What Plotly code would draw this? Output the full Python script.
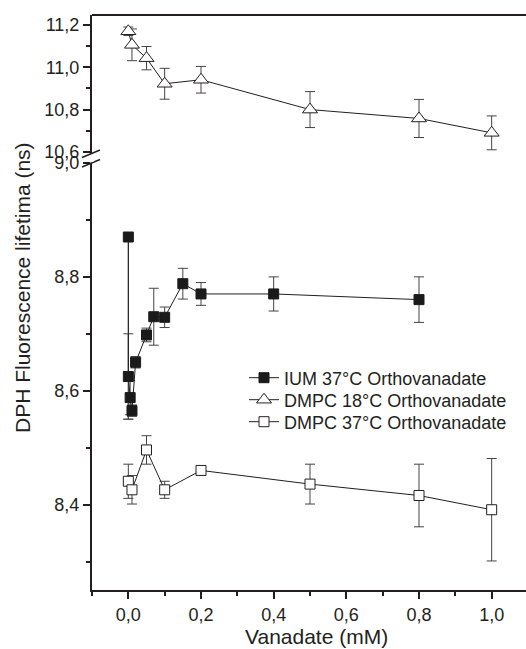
import plotly.graph_objects as go

# ---- data ----
ium_x = [0.0, 0.0, 0.005, 0.01, 0.02, 0.05, 0.07, 0.1, 0.15, 0.2, 0.4, 0.8]
ium_y = [8.87, 8.625, 8.588, 8.565, 8.65, 8.698, 8.73, 8.729, 8.788, 8.77, 8.77, 8.76]
ium_err_plus = [0.0, 0.075, 0.03, 0.01, 0.01, 0.012, 0.05, 0.018, 0.027, 0.02, 0.03, 0.04]
ium_err_minus = [0.32, 0.075, 0.03, 0.01, 0.01, 0.012, 0.05, 0.018, 0.027, 0.02, 0.03, 0.04]

d18_x = [0.0, 0.01, 0.05, 0.1, 0.2, 0.5, 0.8, 1.0]
d18_y = [11.17, 11.106, 11.043, 10.922, 10.941, 10.80, 10.758, 10.69]
d18_err = [0.02, 0.075, 0.055, 0.073, 0.063, 0.085, 0.09, 0.08]

d37_x = [0.0, 0.01, 0.05, 0.1, 0.2, 0.5, 0.8, 1.0]
d37_y = [8.441, 8.426, 8.496, 8.426, 8.46, 8.436, 8.416, 8.391]
d37_err = [0.03, 0.025, 0.025, 0.015, 0.005, 0.035, 0.055, 0.09]

names = ["IUM 37°C Orthovanadate", "DMPC 18°C Orthovanadate", "DMPC 37°C Orthovanadate"]

# ---- figure ----
FONT = "Liberation Sans, Arial, sans-serif"
INK = "#231f20"
W, H = 526, 649
L, R, T, B = 92, 0, 15, 59

fig = go.Figure()

err_style = dict(type="data", color="#444", thickness=1, width=5)

fig.add_trace(go.Scatter(
    x=ium_x, y=ium_y, name=names[0], mode="lines+markers", legend="legend",
    line=dict(color=INK, width=1),
    marker=dict(symbol="square", size=10, color="#1a1a1a", line=dict(color="#1a1a1a", width=1)),
    error_y=dict(array=ium_err_plus, arrayminus=ium_err_minus, symmetric=False, **err_style),
    xaxis="x", yaxis="y"))

fig.add_trace(go.Scatter(
    x=d18_x, y=d18_y, name=names[1], mode="lines+markers", legend="legend2",
    line=dict(color=INK, width=1),
    marker=dict(symbol="triangle-up", size=13, color="white", line=dict(color=INK, width=1)),
    error_y=dict(array=d18_err, **err_style),
    xaxis="x", yaxis="y2"))

fig.add_trace(go.Scatter(
    x=d37_x, y=d37_y, name=names[2], mode="lines+markers", legend="legend3",
    line=dict(color=INK, width=1),
    marker=dict(symbol="square", size=10, color="white", line=dict(color=INK, width=1)),
    error_y=dict(array=d37_err, **err_style),
    xaxis="x", yaxis="y"))

plot_h = H - T - B
def py(pix):
    return (H - B - pix) / plot_h
def px(pix):
    return (pix - L) / (W - L - R)

axis_common = dict(
    showline=True, linecolor=INK, linewidth=2, ticks="outside", ticklen=7,
    tickwidth=1.5, tickcolor=INK, showgrid=False, zeroline=False,
    tickfont=dict(family=FONT, size=18, color=INK), tickformat=".1f",
    automargin=False,
)

def leg(ycenter):
    return dict(x=px(244), y=py(ycenter), xanchor="left", yanchor="middle",
                bgcolor="rgba(0,0,0,0)", borderwidth=0,
                font=dict(family=FONT, size=18, color=INK),
                tracegroupgap=0, itemwidth=30)

fig.update_layout(
    width=W, height=H, margin=dict(l=L, r=R, t=T, b=B),
    paper_bgcolor="white", plot_bgcolor="white",
    separators=",.",
    font=dict(family=FONT, color=INK),
    showlegend=True,
    legend=leg(378), legend2=leg(400), legend3=leg(422),
    xaxis=dict(range=[-0.1, 1.0945], dtick=0.2, tick0=0, anchor="y",
               minor=dict(dtick=0.1, tick0=0, ticks="outside", ticklen=4, tickcolor=INK, tickwidth=1.5),
               **axis_common),
    yaxis=dict(range=[8.25, 9.0], domain=[0, py(163)], dtick=0.2, tick0=8.4, anchor="x",
               minor=dict(dtick=0.1, tick0=8.3, ticks="outside", ticklen=4, tickcolor=INK, tickwidth=1.5),
               **axis_common),
    yaxis2=dict(range=[10.59, 11.247], domain=[py(154), 1], dtick=0.2, tick0=10.6, anchor="x",
                minor=dict(dtick=0.1, tick0=10.7, ticks="outside", ticklen=4, tickcolor=INK, tickwidth=1.5),
                **axis_common),
)

# top frame line
fig.add_shape(type="line", xref="paper", yref="paper", x0=0, x1=1, y0=1, y1=1,
              line=dict(color=INK, width=2))
# axis break marks
fig.add_shape(type="line", xref="paper", yref="paper", x0=px(82), x1=px(100), y0=py(157.5), y1=py(150),
              line=dict(color=INK, width=1.5))
fig.add_shape(type="line", xref="paper", yref="paper", x0=px(82), x1=px(100), y0=py(167), y1=py(159.5),
              line=dict(color=INK, width=1.5))
# white gap on the axis between the marks
fig.add_shape(type="line", xref="paper", yref="paper", x0=0, x1=0, y0=py(162), y1=py(155),
              line=dict(color="white", width=3))

# axis titles
fig.add_annotation(text="Vanadate (mM)", xref="paper", yref="paper", x=px(316), y=py(636),
                   showarrow=False, xanchor="center", yanchor="middle",
                   font=dict(family=FONT, size=21, color=INK))
fig.add_annotation(text="DPH Fluorescence lifetima (ns)", xref="paper", yref="paper",
                   x=px(22), y=py(288), textangle=-90, showarrow=False,
                   xanchor="center", yanchor="middle",
                   font=dict(family=FONT, size=21, color=INK))

fig.write_html("out.html", config={"displayModeBar": False},
               post_script="document.body.style.margin='0px';document.body.style.padding='0px';")
